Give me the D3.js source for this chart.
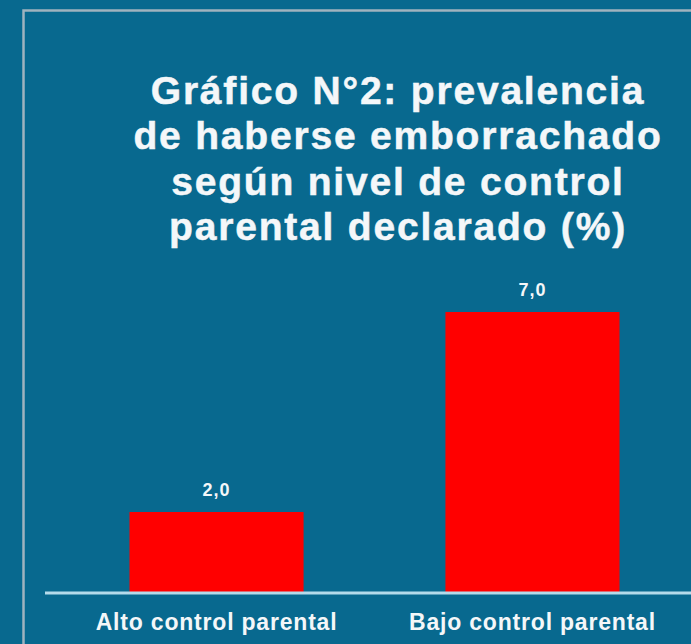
<!DOCTYPE html>
<html>
<head>
<meta charset="utf-8">
<script src="https://cdn.jsdelivr.net/npm/d3@7/dist/d3.min.js"></script>
<style>
  html, body { margin: 0; padding: 0; background: #08698f; }
  svg { display: block; }
</style>
</head>
<body>
<script>
// Prevalence of having been drunk, by declared parental control level (%)
const categories = ["Alto control parental", "Bajo control parental"];
const values = [2.0, 7.0];
const titleLines = [
  "Gráfico N°2: prevalencia",
  "de haberse emborrachado",
  "según nivel de control",
  "parental declarado (%)"
];

const W = 691, H = 644;
const svg = d3.select("body").append("svg").attr("width", W).attr("height", H);

svg.append("rect").attr("width", W).attr("height", H).attr("fill", "#08698f");

// slide frame
svg.append("path")
  .attr("d", `M23.5,${H} V10.5 H${W}`)
  .attr("fill", "none").attr("stroke", "#9fb3bf").attr("stroke-width", 2.5);

const font = "'Liberation Sans', Arial, sans-serif";
const ink = "#f4f7f9";

// title
svg.append("g").selectAll("text").data(titleLines).join("text")
  .attr("x", 398).attr("y", (d, i) => 104 + i * 45.3)
  .attr("text-anchor", "middle")
  .attr("font-family", font).attr("font-weight", "bold").attr("font-size", 39)
  .attr("letter-spacing", 1.8)
  .attr("fill", ink).attr("stroke", ink).attr("stroke-width", 0.5)
  .text(d => d);

const plot = { left: 45, right: W, baseline: 592 };

const x = d3.scaleBand().domain(categories).range([66.3, 682.7]).paddingInner(0.449).paddingOuter(0.2);
const y = d3.scaleLinear().domain([0, 7]).range([plot.baseline, 312]);

svg.append("g").selectAll("rect").data(values).join("rect")
  .attr("x", (d, i) => x(categories[i]))
  .attr("width", x.bandwidth())
  .attr("y", d => y(d))
  .attr("height", d => y(0) - y(d))
  .attr("fill", "#ff0000");

// value labels
svg.append("g").selectAll("text").data(values).join("text")
  .attr("x", (d, i) => x(categories[i]) + x.bandwidth() / 2)
  .attr("y", d => y(d) - 16)
  .attr("text-anchor", "middle")
  .attr("font-family", font).attr("font-weight", "bold").attr("font-size", 18)
  .attr("letter-spacing", 1)
  .attr("fill", ink)
  .text(d => d3.format(".1f")(d).replace(".", ","));

// category axis
const axis = svg.append("g").attr("transform", `translate(0,${plot.baseline})`)
  .call(d3.axisBottom(x).tickSize(0).tickPadding(0));
axis.select(".domain").remove();
axis.append("line")
  .attr("x1", plot.left).attr("x2", plot.right).attr("y1", 1).attr("y2", 1)
  .attr("stroke", "#b5dbeb").attr("stroke-width", 3);
axis.selectAll(".tick text")
  .attr("y", 38)
  .attr("dy", 0)
  .attr("font-family", font).attr("font-weight", "bold").attr("font-size", 23)
  .attr("letter-spacing", 0.8)
  .attr("fill", ink);
</script>
</body>
</html>
